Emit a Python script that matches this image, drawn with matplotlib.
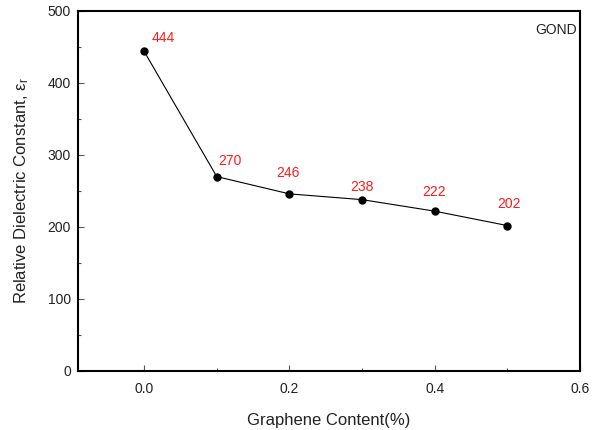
import matplotlib
matplotlib.use("Agg")
import matplotlib.pyplot as plt
from matplotlib.ticker import MultipleLocator, FormatStrFormatter

plt.rcParams['font.family'] = ['Liberation Sans', 'DejaVu Sans']
plt.rcParams['mathtext.fontset'] = 'custom'
plt.rcParams['mathtext.rm'] = 'Liberation Sans'

# data
content = [0.0, 0.1, 0.2, 0.3, 0.4, 0.5]
eps_r = [444, 270, 246, 238, 222, 202]
labels = ['444', '270', '246', '238', '222', '202']

# label placement (offset points from each marker)
label_offsets = [(14, 9.4), (9.6, 11.5), (-0.7, 15), (0, 9.4), (-0.7, 13.7), (1.4, 15.8)]

fig = plt.figure(figsize=(5.98, 4.30), dpi=100)
ax = fig.add_axes([78 / 598, 59 / 430, 502 / 598, 360 / 430])

ax.plot(content, eps_r, color='black', lw=0.8, marker='o', ms=5)

for x, y, s, off in zip(content, eps_r, labels, label_offsets):
    ax.annotate(s, (x, y), xytext=off, textcoords='offset points',
                ha='center', va='center', color='#ff1a1a', fontsize=10)

fig.text(577 / 598, 1 - 30 / 430, 'GOND', ha='right', va='center',
         fontsize=10, color='#222222')

ax.set_xlim(-0.091, 0.6)
ax.set_ylim(0, 500)
ax.xaxis.set_major_locator(MultipleLocator(0.2))
ax.xaxis.set_minor_locator(MultipleLocator(0.1))
ax.yaxis.set_major_locator(MultipleLocator(100))
ax.yaxis.set_minor_locator(MultipleLocator(50))
ax.xaxis.set_major_formatter(FormatStrFormatter('%.1f'))

ax.tick_params(which='both', direction='in', colors='#555555', labelcolor='#222222',
               labelsize=10, top=False, right=False)
ax.tick_params(which='major', length=4, width=0.8)
ax.tick_params(which='minor', length=2.5, width=0.8)
ax.tick_params(axis='x', which='major', pad=8)
ax.tick_params(axis='y', which='major', pad=5)
for sp in ax.spines.values():
    sp.set_linewidth(1.5)

ax.set_xlabel('Graphene Content(%)', fontsize=12, color='#222222', labelpad=12)
ax.set_ylabel(r'Relative Dielectric Constant, $\mathrm{\epsilon_r}$', fontsize=12,
              color='#222222', labelpad=12)

fig.savefig('out.png', dpi=100)
